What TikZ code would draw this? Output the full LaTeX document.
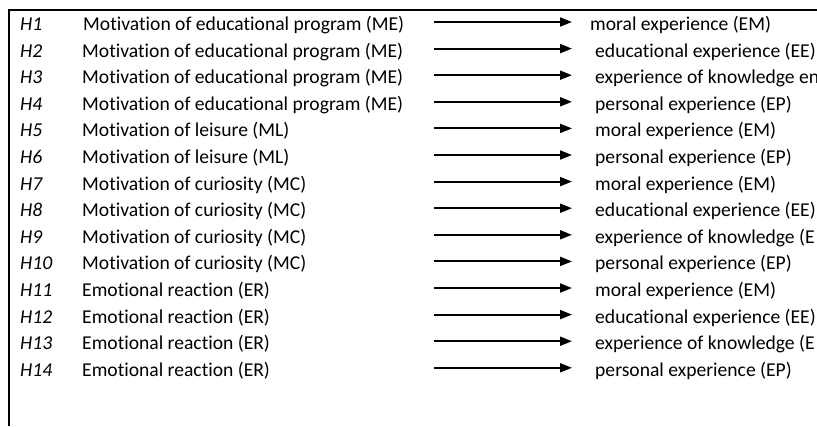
\documentclass[tikz,border=0pt]{standalone}
\usepackage{fontspec}
\setmainfont{Carlito}[Ligatures=NoCommon]
\usetikzlibrary{arrows.meta}
\begin{document}
\begin{tikzpicture}[x=1pt,y=-1pt,
  txt/.style={anchor=base west, inner sep=0pt, font=\fontsize{19.6}{23}\selectfont},
  hyp/.style={txt, font=\fontsize{19.6}{23}\selectfont\itshape},
  link/.style={line width=1.9pt, -{Triangle[length=12pt,width=9pt]}},
  frame/.style={line width=2pt}]
\useasboundingbox (0,0) rectangle (817,426);
\clip (0,0) rectangle (817,426);
% open frame: top and left rules
\draw[frame] (817,10) -- (9,10) -- (9,426);
% one hypothesis per row: label, cause, arrow, effect
\foreach \c/\e [count=\k] in {
  Motivation of educational program (ME)/moral experience (EM),
  Motivation of educational program (ME)/educational experience (EE),
  Motivation of educational program (ME)/experience of knowledge en,
  Motivation of educational program (ME)/personal experience (EP),
  Motivation of leisure (ML)/moral experience (EM),
  Motivation of leisure (ML)/personal experience (EP),
  Motivation of curiosity (MC)/moral experience (EM),
  Motivation of curiosity (MC)/educational experience (EE),
  Motivation of curiosity (MC)/experience of knowledge (E,
  Motivation of curiosity (MC)/personal experience (EP),
  Emotional reaction (ER)/moral experience (EM),
  Emotional reaction (ER)/educational experience (EE),
  Emotional reaction (ER)/experience of knowledge (E,
  Emotional reaction (ER)/personal experience (EP)}{
  \pgfmathsetmacro\yb{30.5+26.6*(\k-1)}
  \pgfmathsetmacro\ya{\yb-8.5}
  \pgfmathsetmacro\xc{\k==1 ? 83 : 82}
  \pgfmathsetmacro\xe{\k==1 ? 590 : 595}
  \node[hyp] (h\k) at (20,\yb) {H\k};
  \node[txt] (c\k) at (\xc,\yb) {\c};
  \node[txt] (e\k) at (\xe,\yb) {\e};
  \coordinate (s\k) at (434,\ya);
  \coordinate (t\k) at (572,\ya);
  \draw[link] (s\k) -- (t\k);
}
\end{tikzpicture}
\end{document}
